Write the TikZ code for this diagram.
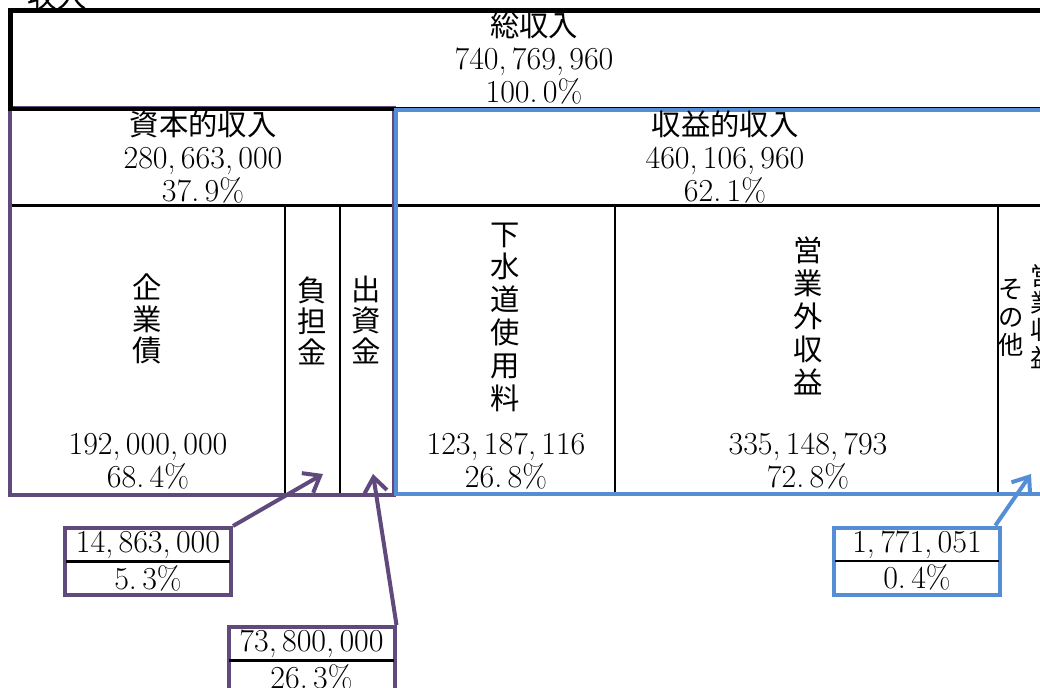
\documentclass[tikz,border=0pt]{standalone}
\usepackage{fontspec}
\usepackage{xcolor}
\usepackage{tikz}
\usetikzlibrary{arrows.meta}
\newfontfamily\jp{Noto Sans CJK JP}
\definecolor{SwPurple}{HTML}{604A7B}
\definecolor{SwBlue}{HTML}{558ED5}
\newcommand{\nm}[1]{{\rmfamily\fontsize{24}{24.75}\selectfont #1}}

\begin{document}
\begin{tikzpicture}[x=0.75pt,y=-0.75pt,
  frame/.style={draw=black,line width=3.4pt},
  rule/.style={draw=black,line width=2.2pt},
  txt/.style={font=\jp\fontsize{22}{24.75}\selectfont,align=center,inner sep=0pt},
  vtxt/.style={font=\jp\fontsize{22}{#1}\selectfont,align=center,inner sep=0pt},
  vtxt/.default=24pt,
  smallv/.style={font=\jp\fontsize{19}{#1}\selectfont,align=center,inner sep=0pt},
  callout/.style={draw=#1,line width=3pt,minimum width=124.5pt,minimum height=50.25pt,inner sep=0pt},
  divider/.style={draw=black,line width=2pt},
  pointer/.style={draw=#1,line width=3pt,-{Straight Barb[length=11pt,width=17pt]}}]
  \useasboundingbox (0,0) rectangle (1040,688);
  \clip (0,0) rectangle (1040,688);

  \node[txt,anchor=south] (title) at (57,10) {収入};

  % table rules
  \draw[rule] (10,205.5) -- (1040,205.5);
  \draw[rule] (285,205.5) -- (285,495);
  \draw[rule] (340,205.5) -- (340,495);
  \draw[rule] (615,205.5) -- (615,494);
  \draw[rule] (998,205.5) -- (998,494);
  % section frames
  \draw[SwPurple,line width=3pt] (10,108) rectangle (394,495);
  \draw[frame] (10.5,10.5) rectangle (1060,109);
  \draw[SwBlue,line width=3pt] (396,110) rectangle (1062,494);

  % headers
  \node[txt] (tot) at (534,58) {総収入\\\nm{740,\,769,\,960}\\\nm{100.\,0\%}};
  \node[txt] (cap) at (203,157) {資本的収入\\\nm{280,\,663,\,000}\\\nm{37.\,9\%}};
  \node[txt] (rev) at (725,157) {収益的収入\\\nm{460,\,106,\,960}\\\nm{62.\,1\%}};

  % items
  \node[vtxt=23.5pt] (bond) at (147,319) {企\\業\\債};
  \node[txt] (bondv) at (148,461) {\nm{192,\,000,\,000}\\\nm{68.\,4\%}};
  \node[vtxt=23.5pt] (levy) at (312,321) {負\\担\\金};
  \node[vtxt=23.5pt] (inv) at (366,320) {出\\資\\金};
  \node[vtxt=24.6pt] (fee) at (505,317) {下\\水\\道\\使\\用\\料};
  \node[txt] (feev) at (506,461) {\nm{123,\,187,\,116}\\\nm{26.\,8\%}};
  \node[vtxt=24.75pt] (nonop) at (808,316) {営\\業\\外\\収\\益};
  \node[txt] (nonopv) at (808,461) {\nm{335,\,148,\,793}\\\nm{72.\,8\%}};
  \node[smallv=21pt] (oth) at (1011,318) {そ\\の\\他};
  \node[smallv=20.5pt] (opr) at (1043,316) {営\\業\\収\\益};

  % callouts
  \node[callout=SwPurple] (levybox) at (148,561.5) {};
  \draw[divider] ([xshift=2pt]levybox.west) -- ([xshift=-2pt]levybox.east);
  \node[txt] (levyamt) at (148,545) {\nm{14,\,863,\,000}};
  \node[txt] (levypct) at (148,578) {\nm{5.\,3\%}};
  \node[callout=SwPurple] (invbox) at (311.5,660.5) {};
  \draw[divider] ([xshift=2pt]invbox.west) -- ([xshift=-2pt]invbox.east);
  \node[txt] (invamt) at (311.5,644) {\nm{73,\,800,\,000}};
  \node[txt] (invpct) at (311.5,677) {\nm{26.\,3\%}};
  \node[callout=SwBlue] (othbox) at (917,561) {};
  \draw[divider] ([xshift=2pt]othbox.west) -- ([xshift=-2pt]othbox.east);
  \node[txt] (othamt) at (917,544.5) {\nm{1,\,771,\,051}};
  \node[txt] (othpct) at (917,577.5) {\nm{0.\,4\%}};

  \coordinate (levytip) at (323,474);
  \coordinate (invtip) at (373,474);
  \coordinate (othtip) at (1031,474);
  \draw[pointer=SwPurple] (levybox.north east) -- (levytip);
  \draw[pointer=SwPurple] (invbox.north east) -- (invtip);
  \draw[pointer=SwBlue] ([xshift=-5pt]othbox.north east) -- (othtip);
\end{tikzpicture}
\end{document}
